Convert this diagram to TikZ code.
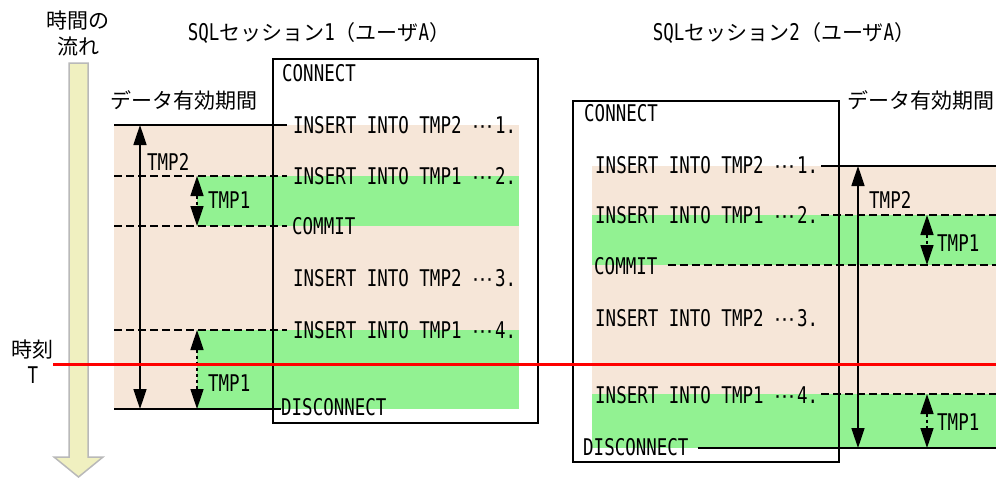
\documentclass[tikz,border=0pt]{standalone}
\usepackage{fontspec}
\usetikzlibrary{arrows.meta}
\setmainfont{Noto Sans CJK JP}
\newfontfamily\jpfont{Noto Sans CJK JP}
\newfontfamily\dotfont{DejaVu Sans}
\newfontfamily\sqlfont[FakeStretch=0.76]{DejaVu Sans Mono}
\definecolor{lifebg}{RGB}{246,230,216}
\definecolor{tmpgreen}{RGB}{146,242,146}
\definecolor{flowfill}{RGB}{240,240,192}
\newcommand{\tdots}{{\dotfont\fontsize{21}{25}\selectfont ⋯\hspace{2pt}}}
\newcommand{\sqltxt}[1]{{\sqlfont\fontsize{23}{26}\selectfont #1}}

\begin{document}
\begin{tikzpicture}[x=1pt, y=-1pt,
        jp/.style={inner sep=0pt, font=\jpfont\fontsize{21}{25}\selectfont},
        sql/.style={inner sep=0pt, anchor=west, font=\sqlfont\fontsize{23}{26}\selectfont},
        sess/.style={draw, line width=1.6pt},
        solidln/.style={line width=1.6pt},
        dashln/.style={line width=1.6pt, dash pattern=on 8pt off 4pt},
        lifespan/.style={line width=1.6pt,
                {Triangle[length=20pt,width=13pt]}-{Triangle[length=20pt,width=13pt]}},
        lifedash/.style={lifespan, dash pattern=on 3pt off 3pt},
        nowln/.style={red, line width=3pt}
    ]
    \useasboundingbox (0,0) rectangle (996,479);

    \draw[gray!55, line width=1.5pt, fill=flowfill]
        (69,63) -- (88,63) -- (88,457) -- (103,457) -- (78.5,477) -- (54,457) -- (69,457) -- cycle;
    \node[jp] (flow1) at (78,21) {時間の};
    \node[jp] (flow2) at (78,46) {流れ};
    \node[jp] (tlabel) at (33,350) {時刻};
    \node[sql, anchor=center] (tname) at (33,375) {T};

    \node[jp] (title1) at (319,33) {\sqltxt{SQL}セッション\sqltxt{1}（ユーザ\sqltxt{A}）};
    \node[jp] (title2) at (784,33) {\sqltxt{SQL}セッション\sqltxt{2}（ユーザ\sqltxt{A}）};
    \node[jp] (valid1) at (184,100) {データ有効期間};
    \node[jp] (valid2) at (921,100) {データ有効期間};

    \fill[lifebg] (114,125) rectangle (519,409);
    \fill[tmpgreen] (197,176) rectangle (519,226);
    \fill[tmpgreen] (197,330) rectangle (519,409);
    \fill[lifebg] (592,166) rectangle (996,394);
    \fill[tmpgreen] (592,215) rectangle (996,265);
    \fill[tmpgreen] (592,394) rectangle (996,448);

    \draw[sess] (273,59) rectangle (538,423);
    \draw[sess] (573,101) rectangle (839,462);

    \node[sql] (con1) at (282,73) {CONNECT};
    \node[sql] (ins1a) at (293,125) {INSERT INTO TMP2 \tdots1.};
    \node[sql] (ins1b) at (293,176) {INSERT INTO TMP1 \tdots2.};
    \node[sql] (com1) at (292,226) {COMMIT};
    \node[sql] (ins1c) at (293,278) {INSERT INTO TMP2 \tdots3.};
    \node[sql] (ins1d) at (293,330) {INSERT INTO TMP1 \tdots4.};
    \node[sql] (dis1) at (281,407) {DISCONNECT};

    \coordinate (l1a) at (114,125);
    \coordinate (l1b) at (114,176);
    \coordinate (l1c) at (114,226);
    \coordinate (l1d) at (114,330);
    \coordinate (l1e) at (114,409);
    \draw[solidln] (l1a) -- ([xshift=-6pt]ins1a.west);
    \draw[dashln] (l1b) -- ([xshift=-6pt]ins1b.west);
    \draw[dashln] (l1c) -- ([xshift=-5pt]com1.west);
    \draw[dashln] (l1d) -- ([xshift=-6pt]ins1d.west);
    \draw[solidln] (l1e) -- (dis1.west |- l1e);

    \coordinate (a1top) at (140,125);
    \coordinate (a1bot) at (140,409);
    \coordinate (b1top) at (197,176);
    \coordinate (b1bot) at (197,226);
    \coordinate (c1top) at (197,330);
    \coordinate (c1bot) at (197,409);
    \draw[lifespan] (a1top) -- (a1bot);
    \draw[lifedash] (b1top) -- (b1bot);
    \draw[lifedash] (c1top) -- (c1bot);
    \node[sql] (tmp2a) at (147,162) {TMP2};
    \node[sql] (tmp1a) at (208,200) {TMP1};
    \node[sql] (tmp1b) at (208,383) {TMP1};

    \node[sql] (con2) at (584,113) {CONNECT};
    \node[sql] (ins2a) at (595,165) {INSERT INTO TMP2 \tdots1.};
    \node[sql] (ins2b) at (595,215) {INSERT INTO TMP1 \tdots2.};
    \node[sql] (com2) at (594,266) {COMMIT};
    \node[sql] (ins2c) at (595,318) {INSERT INTO TMP2 \tdots3.};
    \node[sql] (ins2d) at (595,395) {INSERT INTO TMP1 \tdots4.};
    \node[sql] (dis2) at (583,447) {DISCONNECT};

    \coordinate (r2a) at (996,166);
    \coordinate (r2b) at (996,215);
    \coordinate (r2c) at (996,265);
    \coordinate (r2d) at (996,394);
    \coordinate (r2e) at (996,448);
    \draw[solidln] ([xshift=3pt]ins2a.east |- r2a) -- (r2a);
    \draw[dashln] ([xshift=3pt]ins2b.east |- r2b) -- (r2b);
    \draw[dashln] ([xshift=10pt]com2.east |- r2c) -- (r2c);
    \draw[dashln] ([xshift=3pt]ins2d.east |- r2d) -- (r2d);
    \draw[solidln] ([xshift=9pt]dis2.east |- r2e) -- (r2e);

    \coordinate (a2top) at (858,166);
    \coordinate (a2bot) at (858,448);
    \coordinate (b2top) at (927,215);
    \coordinate (b2bot) at (927,265);
    \coordinate (c2top) at (927,394);
    \coordinate (c2bot) at (927,448);
    \draw[lifespan] (a2top) -- (a2bot);
    \draw[lifedash] (b2top) -- (b2bot);
    \draw[lifedash] (c2top) -- (c2bot);
    \node[sql] (tmp2b) at (869,200) {TMP2};
    \node[sql] (tmp1c) at (937,243) {TMP1};
    \node[sql] (tmp1d) at (937,422) {TMP1};

    \coordinate (now0) at (53,364);
    \coordinate (now1) at (996,364);
    \draw[nowln] (now0) -- (now1);
\end{tikzpicture}
\end{document}
